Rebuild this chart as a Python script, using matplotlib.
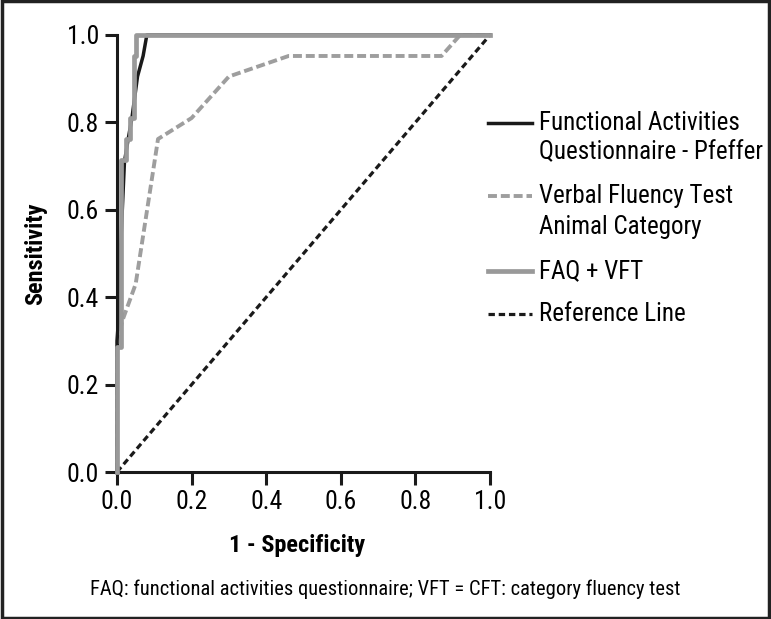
import matplotlib
matplotlib.use('Agg')
import matplotlib.pyplot as plt
from matplotlib.lines import Line2D
from matplotlib.patches import Rectangle

plt.rcParams['font.family'] = ['Roboto Condensed', 'DejaVu Sans Condensed', 'DejaVu Sans']

# ROC curves (x = 1 - specificity, y = sensitivity)
faq_x = [0.0, 0.0, 0.005, 0.01, 0.02, 0.03, 0.04, 0.055, 0.07, 0.08, 1.0]
faq_y = [0.0, 0.30, 0.36, 0.52, 0.71, 0.762, 0.81, 0.905, 0.952, 1.0, 1.0]

vft_x = [0.0, 0.0, 0.013, 0.05, 0.11, 0.2, 0.3, 0.46, 0.87, 0.92, 1.0]
vft_y = [0.0, 0.286, 0.343, 0.43, 0.762, 0.81, 0.905, 0.952, 0.952, 1.0, 1.0]

comb_x = [0.0, 0.0, 0.01, 0.01, 0.025, 0.025, 0.035, 0.035, 0.045, 0.045, 0.05, 0.05, 1.0]
comb_y = [0.0, 0.286, 0.286, 0.714, 0.714, 0.762, 0.762, 0.81, 0.81, 0.952, 0.952, 1.0, 1.0]

ref_x = [0.0, 1.0]
ref_y = [0.0, 1.0]

ticks = [0.0, 0.2, 0.4, 0.6, 0.8, 1.0]
tick_labels = ['0.0', '0.2', '0.4', '0.6', '0.8', '1.0']

legend_labels = [['Functional Activities', 'Questionnaire - Pfeffer'],
                 ['Verbal Fluency Test', 'Animal Category'],
                 ['FAQ + VFT'],
                 ['Reference Line']]

W, H = 771, 619
fig = plt.figure(figsize=(W / 100, H / 100), dpi=100)
ax = fig.add_axes([117 / W, 1 - 472 / H, 373 / W, 437 / H])

styles = [dict(color='#1a1a1a', lw=2.5, ls='-'),
          dict(color='#9e9e9e', lw=2.8, ls=(0, (2.3, 1.0))),
          dict(color='#999999', lw=3.4, ls='-'),
          dict(color='#1a1a1a', lw=2.3, ls=(0, (2.0, 1.2)))]

ax.plot(ref_x, ref_y, clip_on=False, zorder=2, **styles[3])
ax.plot(vft_x, vft_y, clip_on=False, zorder=3, **styles[1])
ax.plot(faq_x, faq_y, clip_on=False, zorder=4, **styles[0])
ax.plot(comb_x, comb_y, clip_on=False, zorder=5, **styles[2])

ax.set_xlim(0, 1)
ax.set_ylim(0, 1)
ax.set_xticks(ticks)
ax.set_xticklabels(tick_labels)
ax.set_yticks(ticks)
ax.set_yticklabels(tick_labels)
for s in ['top', 'right']:
    ax.spines[s].set_visible(False)
for s in ['left', 'bottom']:
    ax.spines[s].set_linewidth(2.2)
    ax.spines[s].set_color('#1a1a1a')
ax.tick_params(length=9, width=2.2, color='#1a1a1a', labelsize=18.5, pad=4)

ax.set_xlabel('1 - Specificity', fontsize=17.5, fontweight='bold', labelpad=14)
ax.xaxis.set_label_coords((297 - 117) / 373, -0.142)
ax.set_ylabel('Sensitivity', fontsize=17.5, fontweight='bold', labelpad=14)

# legend laid out by hand: handle sits beside the first line of each entry
row_y = [[123, 152], [196, 227], [271], [314]]
for st, lines, ys in zip(styles, legend_labels, row_y):
    fig.add_artist(Line2D([488 / W, 532 / W], [1 - ys[0] / H] * 2,
                          transform=fig.transFigure, **st))
    for txt, yy in zip(lines, ys):
        fig.text(539 / W, 1 - yy / H, txt, ha='left', va='center', fontsize=18)

fig.text(385 / W, 1 - 589 / H,
         'FAQ: functional activities questionnaire; VFT = CFT: category fluency test',
         ha='center', va='center', fontsize=14.8)

fig.patches.append(Rectangle((0.002, 0.002), 0.996, 0.996, transform=fig.transFigure,
                             fill=False, edgecolor='#222222', lw=2.5))

fig.savefig('out.png', dpi=100)
